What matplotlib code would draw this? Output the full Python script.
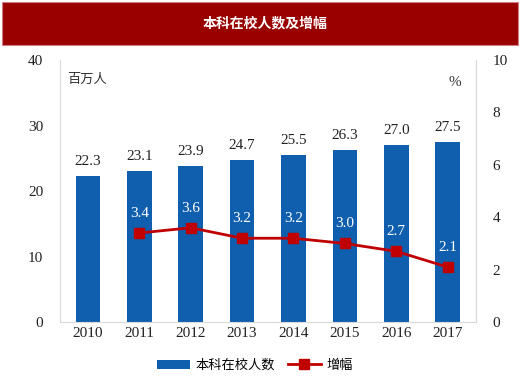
import matplotlib.pyplot as plt
from matplotlib.patches import Rectangle
import numpy as np

plt.rcParams['font.family'] = ['Liberation Serif', 'Noto Sans CJK SC']

years = ['2010', '2011', '2012', '2013', '2014', '2015', '2016', '2017']
students = [22.3, 23.1, 23.9, 24.7, 25.5, 26.3, 27.0, 27.5]
growth_years = years[1:]
growth = [3.4, 3.6, 3.2, 3.2, 3.0, 2.7, 2.1]

bar_color = '#0F5FAE'
line_color = '#C00000'

fig = plt.figure(figsize=(5.2, 3.78), dpi=100)

# title band
fig.patches.append(Rectangle((0.004, 0.882), 0.992, 0.113, transform=fig.transFigure,
                             facecolor='#990000', edgecolor='#D08080', lw=0.8))
fig.text(0.51, 0.938, '本科在校人数及增幅', color='white', fontsize=10, fontweight='bold',
         ha='center', va='center', family=['Noto Sans CJK SC'])

ax = fig.add_axes([0.115, 0.148, 0.8, 0.693])
x = np.arange(len(years))
bars = ax.bar(x, students, width=0.48, color=bar_color, label='本科在校人数')
for xi, v in zip(x, students):
    ax.text(xi, v + 1.2, f'{v:.1f}', ha='center', va='bottom', fontsize=11, color='#222222')

ax.set_ylim(0, 40)
ax.set_yticks([0, 10, 20, 30, 40])
ax.set_xlim(-0.55, len(years) - 0.45)
ax.set_xticks(x)
ax.set_xticklabels(years)
ax.tick_params(length=0, labelsize=11, colors='#222222')
ax.tick_params(axis='y', pad=12)
ax.spines['top'].set_visible(False)
for s in ['left', 'right', 'bottom']:
    ax.spines[s].set_color('#D9D9D9')

ax2 = ax.twinx()
gx = np.arange(1, len(years))
ln, = ax2.plot(gx, growth, color=line_color, lw=2, marker='s', markersize=7, label='增幅')
for xi, v in zip(gx, growth):
    ax2.text(xi, v + 0.5, f'{v:.1f}', ha='center', va='bottom', fontsize=11, color='white')
ax2.set_ylim(0, 10)
ax2.set_yticks([0, 2, 4, 6, 8, 10])
ax2.tick_params(length=0, labelsize=11, colors='#222222', pad=12)
for s in ['top', 'left', 'bottom']:
    ax2.spines[s].set_visible(False)
ax2.spines['right'].set_color('#D9D9D9')

ax.text(0.017, 0.925, '百万人', transform=ax.transAxes, fontsize=9.5, color='#333333',
        family=['Noto Sans CJK SC'], va='center')
ax.text(0.965, 0.915, '%', transform=ax.transAxes, fontsize=11, color='#333333',
        ha='right', va='center')

fig.legend([bars, ln], ['本科在校人数', '增幅'], loc='center', bbox_to_anchor=(0.49, 0.033),
           ncol=2, frameon=False, prop={'family': 'Noto Sans CJK SC', 'size': 9.5},
           handlelength=2.5, columnspacing=1.0, handletextpad=0.4)

fig.savefig('out.png', dpi=100)
